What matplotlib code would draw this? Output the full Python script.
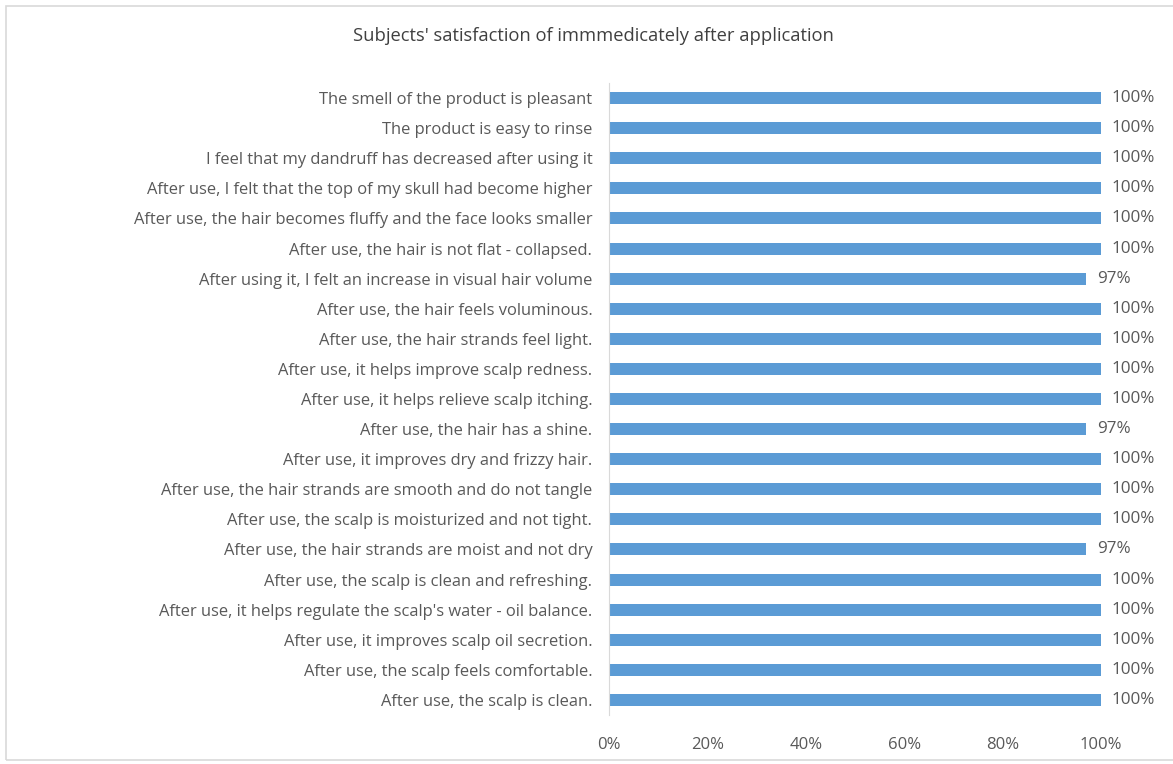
import matplotlib.pyplot as plt
from matplotlib.patches import Rectangle
from matplotlib.ticker import FuncFormatter

# statements listed bottom to top
statements = [
    "After use, the scalp is clean.",
    "After use, the scalp feels comfortable.",
    "After use, it improves scalp oil secretion.",
    "After use, it helps regulate the scalp's water - oil balance.",
    "After use, the scalp is clean and refreshing.",
    "After use, the hair strands are moist and not dry",
    "After use, the scalp is moisturized and not tight.",
    "After use, the hair strands are smooth and do not tangle",
    "After use, it improves dry and frizzy hair.",
    "After use, the hair has a shine.",
    "After use, it helps relieve scalp itching.",
    "After use, it helps improve scalp redness.",
    "After use, the hair strands feel light.",
    "After use, the hair feels voluminous.",
    "After using it, I felt an increase in visual hair volume",
    "After use, the hair is not flat - collapsed.",
    "After use, the hair becomes fluffy and the face looks smaller",
    "After use, I felt that the top of my skull had become higher",
    "I feel that my dandruff has decreased after using it",
    "The product is easy to rinse",
    "The smell of the product is pleasant",
]
satisfaction = [100, 100, 100, 100, 100, 97, 100, 100, 100, 97, 100,
                100, 100, 100, 97, 100, 100, 100, 100, 100, 100]

plt.rcParams["font.family"] = ["Open Sans", "DejaVu Sans"]
text_color = "#595959"

fig = plt.figure(figsize=(11.73, 7.64), dpi=100)
fig.patches.append(Rectangle((6 / 1173, 4 / 764), 1.2, 1 - 10 / 764,
                             transform=fig.transFigure, fill=False,
                             edgecolor="#d9d9d9", linewidth=1.2))

ax = fig.add_axes([609 / 1173, 1 - 715 / 764, 492 / 1173, 632 / 764])
ypos = list(range(len(statements)))
ax.barh(ypos, [v / 100 for v in satisfaction], height=0.4, color="#5b9bd5")

for y, v in zip(ypos, satisfaction):
    ax.text(v / 100 + 0.022, y, f"{v}%", va="center", ha="left",
            fontsize=12.3, color=text_color)

ax.set_xlim(0, 1)
ax.set_ylim(-0.5, len(statements) - 0.5)
ax.set_xticks([0, 0.2, 0.4, 0.6, 0.8, 1.0])
ax.xaxis.set_major_formatter(FuncFormatter(lambda x, p: f"{x:.0%}"))
ax.set_yticks(ypos)
ax.set_yticklabels(statements, fontsize=11.9)
ax.tick_params(axis="both", length=0, labelcolor=text_color)
ax.tick_params(axis="x", labelsize=12, pad=16)
ax.tick_params(axis="y", pad=12)
for s in ["top", "right", "bottom"]:
    ax.spines[s].set_visible(False)
ax.spines["left"].set_color("#d9d9d9")

fig.text(593 / 1173, 1 - 36 / 764, "Subjects' satisfaction of immmedicately after application",
         ha="center", va="center", fontsize=13.2, color="#404040")

plt.savefig("out.png", dpi=100)
